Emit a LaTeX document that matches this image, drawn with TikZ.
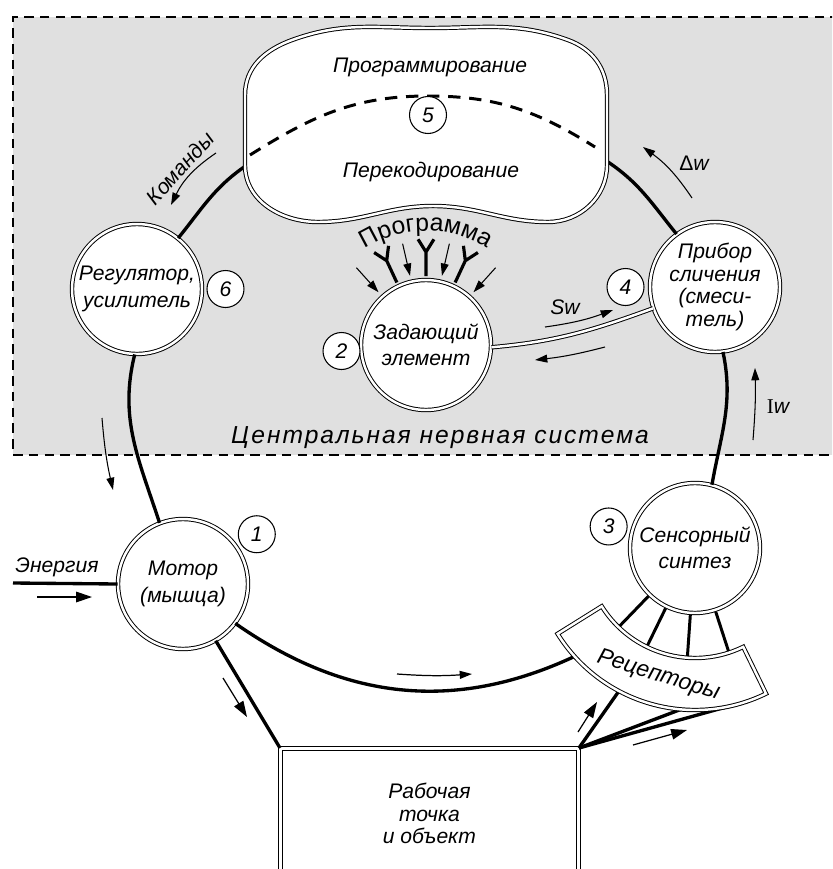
\documentclass[tikz,border=0pt]{standalone}
\usepackage{fontspec}
\setmainfont{Liberation Sans}
\newfontfamily\serfont{Liberation Serif}
\usetikzlibrary{arrows.meta,positioning,decorations.text}
\tikzset{
  organ/.style={circle, draw, double, double distance=1.4pt, line width=0.55pt, fill=white,
    minimum size=2.6cm, inner sep=0pt, align=center, font=\itshape\fontsize{12}{15}\selectfont},
  num/.style={circle, draw, line width=0.6pt, fill=white, minimum size=0.74cm, inner sep=0pt,
    font=\itshape\fontsize{12}{12}\selectfont},
  link/.style={line width=1.9pt},
  twin/.style={double, double distance=1.4pt, line width=0.55pt},
  thinarr/.style={line width=0.6pt, -{Triangle[length=7pt,width=4.5pt]}},
  bigarr/.style={line width=0.7pt, -{Triangle[length=9pt,width=6pt]}},
  lbl/.style={font=\itshape\fontsize{12}{14}\selectfont},
}

\begin{document}
\begin{tikzpicture}[x=0.02cm, y=0.02cm]
\useasboundingbox (0,0) rectangle (832,-869);
\clip (0,0) rectangle (832,-869);
\fill[black!12] (13,-17) rectangle (840,-455);
\draw[line width=1.1pt, dash pattern=on 5.5pt off 3.5pt] (840,-17) -- (13,-17) -- (13,-455) -- (840,-455);
\node[font=\itshape\fontsize{14}{14}\selectfont\addfontfeature{LetterSpace=8}] at (440,-438) (cns) {Центральная нервная система};

\node[organ] at (137,-289) (reg) {Регулятор,\\усилитель};
\node[organ] at (183,-584) (motor) {Мотор\\(мышца)};
\node[organ] at (426,-345) (zad) {Задающий\\элемент};
\node[organ, font=\itshape\fontsize{12}{13}\selectfont] at (715,-287) (pribor) {Прибор\\сличения\\(смеси-\\тель)};
\node[organ] at (695,-548) (sensor) {Сенсорный\\синтез};
\node[draw, twin, fill=white, minimum width=5.96cm, minimum height=2.6cm, anchor=north west,
  align=center, font=\itshape\fontsize{12}{13}\selectfont] at (280,-748) (work) {Рабочая\\точка\\и объект};

\coordinate (blobw) at (247,-165);
\coordinate (blobe) at (605,-160);
\coordinate (energy) at (13,-583);
\coordinate (rc) at ([shift={(sensor.center)}]222:162);

\draw[link] (reg.51) to[out=51, in=214] (blobw);
\draw[link] (blobe) to[out=-33, in=129] (pribor.126);
\draw[link] (pribor.-83) to[out=-78, in=80] (sensor.75);
\draw[link] (reg.268) to[out=256, in=108] (motor.111);
\draw[link] (motor.-37) to[out=-35, in=205] (rc);
\draw[link] (motor.-60) -- (work.north west);
\draw[link] (energy) -- (motor.west);
\draw[link] (work.north east) -- ([shift={(sensor.center)}]242:162);
\draw[link] (work.north east) -- ([shift={(sensor.center)}]265:162);
\draw[link] (work.north east) -- ([shift={(sensor.center)}]290:162);
\draw[twin] (zad.-2) to[out=5, in=200] (pribor.199);

\foreach \a in {226,244,266,288}
  \draw[line width=1.7pt] ([shift={(sensor.center)}]\a:67) -- ([shift={(sensor.center)}]\a:110);
\draw[twin, fill=white] ([shift={(sensor.center)}]212:110) arc[start angle=212, end angle=296, radius=110]
  -- ([shift={(sensor.center)}]296:162) arc[start angle=296, end angle=212, radius=162] -- cycle;
\node[font=\itshape\fontsize{13}{13}\selectfont, rotate=-17] at ([shift={(sensor.center)}]254:133) (recept) {Рецепторы};

\draw[twin, fill=white] (245,-165) -- (245,-95) to[out=90, in=200] (292,-40) to[out=20, in=180] (430,-28)
  to[out=0, in=160] (568,-40) to[out=-20, in=90] (607,-95) -- (607,-165) to[out=-90, in=0] (548,-222)
  to[out=180, in=0] (433,-206) to[out=180, in=0] (318,-222) to[out=180, in=-90] cycle;
\node[lbl] at (430,-67) (progr) {Программирование};
\node[lbl] at (431,-172) (recod) {Перекодирование};
\draw[line width=1.7pt, dash pattern=on 7pt off 5pt] (250,-155) to[out=32, in=180] (428,-96) to[out=0, in=148] (595,-147);

\foreach \a in {65,90,115}
  \draw[line width=1.8pt] ([shift={(zad.center)}]\a:69) -- ([shift={(zad.center)}]\a:93) coordinate (fork)
    -- +({\a+32}:15) (fork) -- +({\a-32}:15);
\foreach \a in {48,77,103,132}
  \draw[thinarr] ([shift={(zad.center)}]\a:104) -- ([shift={(zad.center)}]\a:71);
\path[decorate, decoration={text along path, text align=center,
  text={|\fontsize{14}{14}\selectfont|Программа}}]
  ([shift={(zad.center)}]150:114) arc[start angle=150, end angle=30, radius=114];

\node[num] at (428,-115) (n5) {5};
\node[num, right=0.08cm of reg] (n6) {6};
\node[num, left=0cm of zad, yshift=-0.12cm] (n2) {2};
\node[num, left=0.1cm of pribor] (n4) {4};
\node[num] at ([shift={(motor.center)}]34:89) (n1) {1};
\node[num] at ([shift={(sensor.center)}]166:89) (n3) {3};

\node[lbl, rotate=48] at (180,-168) (komand) {Команды};
\draw[thinarr] (216,-153) to[bend right=15] (171,-205);
\node[lbl] at (57,-567) (energ) {Энергия};
\draw[bigarr] (37,-597) -- (92,-597);
\draw[bigarr] (223,-678) -- (247,-717);
\draw[thinarr, line width=0.7pt] (397,-674) to[bend right=4] (472,-674);
\draw[bigarr] (578,-732) -- (597,-702);
\draw[bigarr] (633,-745) -- (687,-730);
\draw[thinarr] (102,-418) to[bend right=4] (113,-490);
\draw[thinarr] (692,-198) to[bend right=10] (643,-147);
\node[lbl] at (694,-163) (dw) {{\upshape Δ}w};
\draw[thinarr] (753,-440) to[bend right=3] (755,-368);
\node[lbl] at (778,-407) (iw) {{\serfont\upshape I}w};
\draw[thinarr] (545,-327) to[bend right=6] (613,-310);
\node[lbl] at (565,-307) (sw) {Sw};
\draw[thinarr] (605,-347) to[bend left=4] (535,-360);
\end{tikzpicture}
\end{document}
